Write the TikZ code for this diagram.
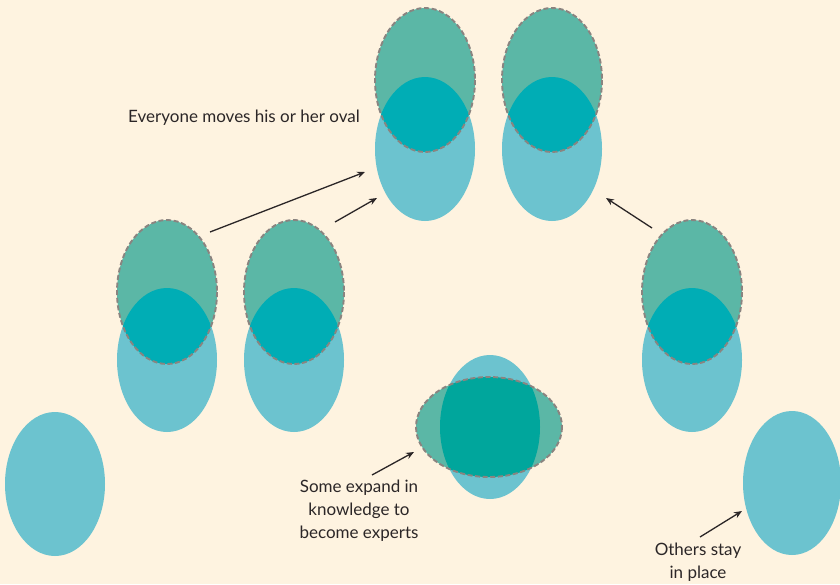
\documentclass[tikz,border=0pt]{standalone}
\usepackage{fontspec}
\setmainfont{Lato}
\usetikzlibrary{arrows.meta}
\definecolor{bgc}{HTML}{FEF3E0}
\definecolor{ovblue}{HTML}{6CC3CF}
\definecolor{ovgreen}{HTML}{5BB7A6}
\definecolor{ovmix}{HTML}{00ADB5}
\definecolor{ovmixb}{HTML}{00A69C}
\definecolor{dashc}{HTML}{8A8480}
\definecolor{inkc}{HTML}{2B2627}
\tikzset{
  dashring/.style={draw=dashc, line width=1.9pt, dash pattern=on 5pt off 2.6pt},
  pointer/.style={draw=inkc, line width=1.3pt, -{Stealth[length=8pt,width=6.5pt]}},
  lbl/.style={text=inkc, font=\fontsize{17}{23}\selectfont, align=center, inner sep=0pt},
}
\newcommand{\ovpair}[3]{% x, y of green center, y of blue center
  \fill[ovblue] (#1,#3) ellipse [x radius=50, y radius=72];
  \fill[ovgreen] (#1,#2) ellipse [x radius=50, y radius=72];
  \begin{scope}
    \clip (#1,#2) ellipse [x radius=50, y radius=72];
    \fill[ovmix] (#1,#3) ellipse [x radius=50, y radius=72];
  \end{scope}
  \draw[dashring] (#1,#2) ellipse [x radius=50, y radius=72];
}
\begin{document}
\begin{tikzpicture}[x=1pt,y=-1pt]
\fill[bgc] (0,0) rectangle (840,584);
\useasboundingbox (0,0) rectangle (840,584);
% pairs
\ovpair{425}{80}{149}
\ovpair{552}{80}{149}
\ovpair{167}{292}{360}
\ovpair{294}{292}{360}
\ovpair{692}{292}{360}
% single ovals
\fill[ovblue] (55,484) ellipse [x radius=50, y radius=72];
\fill[ovblue] (792,483) ellipse [x radius=49, y radius=72];
% expanding oval
\fill[ovblue] (490,427) ellipse [x radius=50, y radius=72];
\fill[ovgreen] (489,427) ellipse [x radius=73, y radius=50];
\begin{scope}
  \clip (489,427) ellipse [x radius=73, y radius=50];
  \fill[ovmixb] (490,427) ellipse [x radius=50, y radius=72];
\end{scope}
\draw[dashring] (489,427) ellipse [x radius=73, y radius=50];
% labels
\node[lbl] (tmove) at (244,118) {Everyone moves his or her oval};
\node[lbl, anchor=north] (texpand) at (359,480) {Some expand in\\knowledge to\\become experts};
\node[lbl, anchor=north] (tstay) at (698,543) {Others stay\\in place};
% arrows
\coordinate (a1s) at (210,232); \coordinate (a1e) at (365,172);
\coordinate (a2s) at (335,222); \coordinate (a2e) at (377,198);
\coordinate (a3s) at (652,228); \coordinate (a3e) at (606,198);
\coordinate (a4s) at (372,475); \coordinate (a4e) at (414,452);
\coordinate (a5s) at (700,537); \coordinate (a5e) at (742,511);
\draw[pointer] (a1s) -- (a1e);
\draw[pointer] (a2s) -- (a2e);
\draw[pointer] (a3s) -- (a3e);
\draw[pointer] (a4s) -- (a4e);
\draw[pointer] (a5s) -- (a5e);
\end{tikzpicture}
\end{document}
